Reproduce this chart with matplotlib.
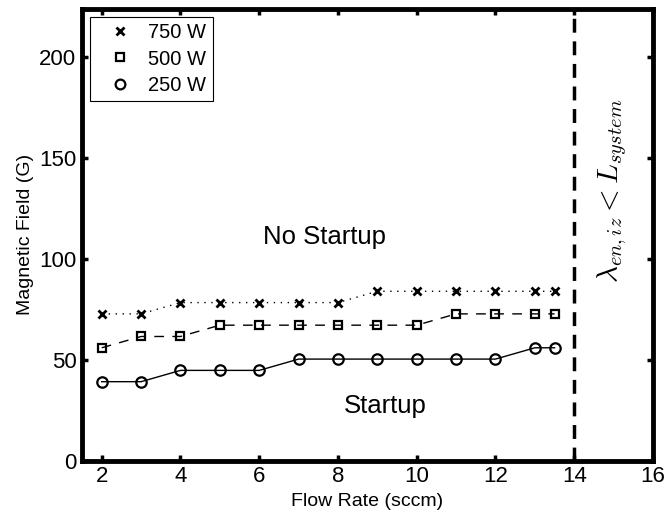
import matplotlib
matplotlib.use("Agg")
import matplotlib.pyplot as plt
from matplotlib.lines import Line2D

plt.rcParams["font.family"] = ["Liberation Sans", "DejaVu Sans"]
plt.rcParams["mathtext.fontset"] = "cm"

flow = [2, 3, 4, 5, 6, 7, 8, 9, 10, 11, 12, 13, 13.5]
b_750 = [72.8, 72.8, 78.4, 78.4, 78.4, 78.4, 78.4, 84.0, 84.0, 84.0, 84.0, 84.0, 84.0]
b_500 = [56.0, 61.6, 61.6, 67.2, 67.2, 67.2, 67.2, 67.2, 67.2, 72.8, 72.8, 72.8, 72.8]
b_250 = [39.2, 39.2, 44.8, 44.8, 44.8, 50.4, 50.4, 50.4, 50.4, 50.4, 50.4, 56.0, 56.0]
flow_limit = 14

fig = plt.figure(figsize=(6.67, 5.16), dpi=100)
ax = fig.add_axes([0.123, 0.107, 0.856, 0.876])

mk = dict(color="black", markerfacecolor="none", markeredgecolor="black")
ax.plot(flow, b_750, linestyle=(0, (1, 4)), linewidth=1.0, marker="x",
        markersize=5.5, markeredgewidth=2.0, **mk)
ax.plot(flow, b_500, linestyle=(0, (7, 6)), linewidth=1.0, marker="s",
        markersize=6, markeredgewidth=1.6, **mk)
ax.plot(flow, b_250, linestyle="-", linewidth=1.0, marker="o",
        markersize=7.5, markeredgewidth=1.6, **mk)

ax.axvline(flow_limit, color="black", linewidth=2.5, linestyle=(0, (4, 2.5)))

ax.text(7.65, 111, "No Startup", fontsize=18.5, ha="center", va="center")
ax.text(9.2, 27, "Startup", fontsize=18.5, ha="center", va="center")
ax.text(14.95, 134, r"$\lambda_{en,iz} < L_{system}$", fontsize=21,
        rotation=90, ha="center", va="center")

ax.set_xlim(1.5, 16)
ax.set_ylim(0, 224)
ax.set_xticks([2, 4, 6, 8, 10, 12, 14, 16])
ax.set_yticks([0, 50, 100, 150, 200])
ax.set_xlabel("Flow Rate (sccm)", fontsize=14)
ax.set_ylabel("Magnetic Field (G)", fontsize=14)

for side in ax.spines.values():
    side.set_linewidth(3.5)
ax.tick_params(axis="both", direction="in", length=4, width=2.5,
               labelsize=16, top=True, right=True, pad=4)

handles = [
    Line2D([], [], linestyle="none", marker="x", markersize=5.5, markeredgewidth=2.0, **mk),
    Line2D([], [], linestyle="none", marker="s", markersize=6, markeredgewidth=1.6, **mk),
    Line2D([], [], linestyle="none", marker="o", markersize=7, markeredgewidth=1.6, **mk),
]
leg = ax.legend(handles, ["750 W", "500 W", "250 W"], loc="upper left",
                fontsize=14.5, fancybox=False, framealpha=1, edgecolor="black",
                borderaxespad=0.4, handlelength=2.4, labelspacing=0.38,
                borderpad=0.3, handletextpad=0.2)
leg.get_frame().set_linewidth(0.8)

fig.savefig("out.png", dpi=100)
